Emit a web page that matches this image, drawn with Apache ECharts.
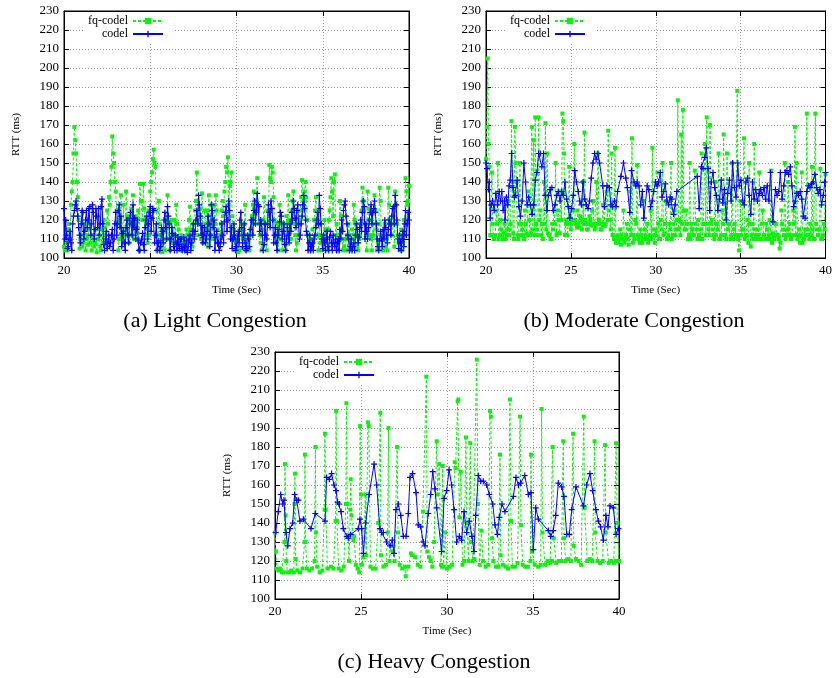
<!DOCTYPE html>
<html><head><meta charset="utf-8">
<script src="https://cdn.jsdelivr.net/npm/echarts@6/dist/echarts.min.js"></script>
<style>html,body{margin:0;padding:0;background:#fff}#c{width:835px;height:678px}</style>
</head><body><div id="c"></div>
<script>
// ---- data ----
const seriesNames = ['fq-codel', 'codel'];
const xTicks = [20, 25, 30, 35, 40];
const yRange = [100, 230];
const captions = ['(a) Light Congestion', '(b) Moderate Congestion', '(c) Heavy Congestion'];

// (a) Light congestion – samples every 0.1 s from 20 s, plus a second set offset by 0.05 s
const startA = 20, stepA = 0.1, startA2 = 20.05;
const fqA = [106,112,104,118,128,140,169,155,132,105,112,108,115,110,107,118,104,112,108,103,
110,106,115,120,112,125,132,140,164,150,135,118,110,133,115,108,135,120,112,126,
133,118,110,125,139,130,139,112,118,125,135,145,157,148,104,130,112,103,115,110,
133,118,108,112,120,128,108,104,112,105,110,115,108,127,112,118,125,145,120,126,
134,115,118,125,133,112,120,128,133,115,108,118,130,135,148,153,138,145,110,104,
108,103,112,118,110,128,112,106,115,122,135,125,142,118,108,115,132,110,125,149,
140,145,120,112,104,128,110,118,108,122,133,115,125,135,112,108,118,125,141,130,
140,120,110,106,115,120,132,112,118,108,112,120,110,115,125,142,122,144,118,108,
130,115,110,104,112,118,108,115,128,112,106,110,118,137,125,112,135,120,110,118,
133,115,108,137,112,104,118,110,137,120,112,125,135,118,108,112,104,120,142,128,138];
const fqA2 = [104,108,115,110,135,155,162,140,120,110,
106,118,104,112,115,108,112,106,115,110,
112,104,108,116,108,118,128,148,155,140,
125,104,120,112,128,112,122,108,118,112,
110,122,116,104,130,120,126,118,108,112,
140,152,150,125,112,118,106,110,104,120,
110,104,120,108,112,118,115,110,104,108,
104,112,120,115,106,112,130,112,118,110,
108,125,112,106,118,128,110,118,125,108,
112,125,122,140,145,128,140,122,115,110,
106,104,115,105,118,104,112,104,112,128,
118,130,125,112,104,120,118,104,118,142,
148,132,108,118,110,118,104,112,104,118,
120,110,130,118,104,112,120,132,125,135,
132,112,104,110,108,125,118,104,112,104,
108,115,104,120,132,135,140,112,104,112,
122,104,106,110,104,112,104,110,120,118,
104,112,125,130,118,104,126,112,104,112,
125,104,118,130,104,110,106,104,128,118,
118,106,128,112,104,115,108,112,135,130];
const codelA = [126,120,105,110,108,118,125,130,122,112,118,124,114,125,120,127,118,124,115,122,
126,118,131,107,110,105,112,108,115,110,124,118,128,122,113,108,116,112,121,118,
128,121,115,109,104,110,107,116,122,118,127,121,125,112,104,109,106,114,120,116,
127,118,110,113,104,108,111,105,110,106,104,109,106,112,108,118,114,125,133,122,
117,112,108,114,118,112,125,120,111,108,104,110,112,119,127,120,125,116,110,112,
106,114,120,116,112,108,105,110,115,120,125,118,134,127,120,112,107,112,118,124,
130,120,112,108,115,119,122,114,107,110,112,118,124,130,121,125,118,112,122,133,
120,112,108,104,108,110,116,124,133,118,105,108,110,106,111,108,112,106,104,110,
115,120,125,130,118,110,106,104,108,112,115,111,120,124,127,118,110,120,128,124,
130,118,106,109,110,115,120,112,115,118,122,127,133,120,105,108,110,106,125,118,120];
const codelA2 = [110,112,106,114,104,122,128,126,116,108,
125,110,120,116,126,112,128,110,126,116,
112,127,118,104,114,108,106,112,104,118,
112,125,116,106,114,104,120,108,124,112,
116,110,120,104,108,113,104,120,110,124,
114,126,108,118,108,104,116,108,124,110,
122,104,116,106,112,104,107,110,104,111,
106,103,110,104,114,110,120,118,128,112,
108,116,110,122,106,128,116,104,114,108,
106,118,108,124,114,130,110,105,118,104,
110,108,124,106,118,104,112,106,120,112,
130,124,128,114,118,104,118,110,128,116,
126,108,116,104,112,124,110,118,104,116,
108,114,120,126,116,128,110,118,128,126,
114,104,112,106,104,112,120,118,126,110,
112,104,114,104,114,104,108,110,108,104,
110,114,128,122,112,104,110,106,104,118,
108,116,114,130,110,114,116,124,118,126,
124,110,104,114,106,110,116,108,120,112,
126,118,128,110,112,104,114,118,112,124];

// (b) Moderate congestion
const startB = 20, stepB = 0.1, startB2 = 20.05;
const fqB = [152,205,148,112,118,110,125,150,112,115,110,118,112,130,115,172,113,169,140,110,
150,118,112,125,113,135,112,169,162,174,115,174,125,118,140,171,155,112,110,118,
125,150,113,120,135,176,155,118,112,148,115,120,160,118,125,116,120,140,166,118,
115,122,117,130,115,140,155,118,115,128,117,135,167,120,155,112,158,110,108,115,
112,125,110,118,107,135,163,112,120,149,110,115,108,130,112,118,110,125,158,112,
115,145,110,120,150,113,130,110,118,150,112,125,115,183,120,165,178,115,125,110,
150,118,112,146,115,120,110,155,118,160,174,115,170,120,112,140,118,155,110,125,
165,112,155,118,110,150,115,112,188,104,130,115,163,112,120,150,106,118,160,112,
115,145,110,125,112,118,110,120,146,113,110,118,112,105,125,115,150,112,140,118,
110,125,169,150,112,108,145,110,115,176,112,118,148,110,176,115,112,147,110,118,144];
const fqB2 = [169,160,112,145,110,112,118,110,120,112,
113,110,115,112,118,140,110,150,112,118,
112,115,110,118,112,120,113,115,112,118,
112,120,112,110,118,115,113,112,110,115,
118,112,125,113,120,172,112,120,118,122,
118,125,120,116,118,122,115,118,120,115,
118,120,125,118,116,118,120,115,118,117,
118,120,125,115,112,110,108,112,110,107,
110,108,112,110,115,112,108,110,118,112,
108,112,110,115,110,108,112,110,115,108,
112,118,110,115,112,118,110,112,115,110,
118,112,120,115,112,118,125,115,118,112,
110,115,112,118,110,112,115,110,118,112,
118,112,118,115,110,112,115,110,112,118,
112,110,115,118,112,110,118,112,110,112,
112,115,110,112,108,118,112,110,115,110,
112,110,118,112,110,115,112,110,108,112,
118,112,110,108,118,112,110,115,112,110,
112,118,112,110,115,112,108,110,112,115,
110,112,115,110,118,112,115,110,112,115];
const codelBt = [20.00,20.06,20.14,20.19,20.25,20.31,20.39,20.48,20.58,20.68,20.78,20.85,20.93,21.01,21.09,21.12,21.2,21.28,21.36,21.43,
21.51,21.59,21.67,21.74,21.84,21.94,22.03,22.13,22.23,22.33,22.42,22.52,22.62,22.71,22.81,22.91,23.0,23.1,23.2,23.29,
23.39,23.49,23.59,23.68,23.78,23.88,23.97,24.07,24.17,24.26,24.36,24.46,24.55,24.65,24.75,24.84,24.94,25.04,25.14,25.23,
25.33,25.43,25.52,25.62,25.72,25.81,25.91,26.01,26.1,26.2,26.3,26.4,26.49,26.59,26.69,26.88,26.98,27.13,27.27,27.36,
27.46,27.56,27.66,27.75,27.95,28.1,28.24,28.33,28.47,28.57,28.72,28.82,28.91,29.01,29.11,29.21,29.3,29.5,29.59,29.69,
29.79,29.88,29.98,30.08,30.17,30.27,30.37,30.47,30.56,30.66,30.76,30.85,30.95,31.05,31.14,31.24,32.44,32.56,32.69,32.79,
32.89,32.98,33.08,33.18,33.27,33.37,33.47,33.57,33.66,33.76,33.86,33.95,34.05,34.15,34.24,34.34,34.44,34.53,34.63,34.73,
34.83,34.92,35.02,35.12,35.21,35.31,35.41,35.5,35.6,35.7,35.79,35.89,35.99,36.09,36.18,36.28,36.38,36.47,36.57,36.67,
36.76,36.9,37.05,37.15,37.25,37.34,37.44,37.54,37.64,37.73,37.83,37.93,38.02,38.12,38.22,38.31,38.41,38.51,38.6,38.7,
38.8,38.9,38.99,39.09,39.19,39.28,39.38,39.48,39.57,39.67,39.77,39.87,39.96,40.0];
const codelBv = [150,147,136,140,121,128,130,125,134,128,135,130,135,125,130,120,132,128,138,141,
155,137,132,133,141,127,122,130,150,140,128,132,128,123,128,141,145,155,155,148,
155,133,125,133,136,137,125,128,133,135,130,135,133,140,131,127,121,126,133,146,
140,135,130,128,140,131,128,126,130,142,150,155,152,155,150,138,127,138,137,128,
127,130,127,135,143,150,142,137,124,146,140,138,140,138,128,135,121,138,136,127,
130,135,140,138,140,145,132,135,139,130,128,132,131,123,128,135,143,126,148,147,
153,158,147,125,140,145,137,133,125,131,141,129,136,120,134,141,130,150,137,132,
150,138,141,130,128,140,142,133,123,140,131,136,130,134,136,133,137,131,138,130,
145,119,136,133,135,145,131,138,145,146,144,148,138,127,130,134,133,135,131,122,
121,135,138,137,139,140,144,137,134,136,128,133,140,145];

// (c) Heavy congestion
const fqCt = [20.0,20.05,20.1,20.2,20.3,20.4,20.5,20.55,20.58,20.62,20.66,20.72,20.85,20.95,21.1,21.14,21.16,21.2,21.3,21.45,
21.6,21.72,21.74,21.78,21.85,22.0,22.15,22.3,22.35,22.38,22.45,22.6,22.75,22.88,22.9,22.95,23.05,23.25,23.4,23.52,
23.55,23.6,23.7,23.85,24.0,24.12,24.15,24.2,24.3,24.38,24.4,24.45,24.55,24.6,24.7,24.8,24.9,24.95,25.0,25.05,
25.15,25.25,25.3,25.4,25.45,25.55,25.7,25.85,26.0,26.12,26.16,26.3,26.45,26.55,26.6,26.65,26.75,26.85,26.95,27.1,
27.15,27.25,27.4,27.55,27.6,27.75,27.9,28.0,28.15,28.3,28.45,28.6,28.8,28.85,28.95,29.05,29.15,29.25,29.4,29.45,
29.55,29.65,29.7,29.75,29.8,29.9,30.0,30.15,30.3,30.45,30.5,30.62,30.66,30.72,30.8,30.9,31.0,31.1,31.15,31.25,
31.35,31.4,31.5,31.6,31.73,31.8,31.9,32.0,32.1,32.25,32.4,32.5,32.55,32.62,32.7,32.85,33.0,33.08,33.12,33.25,
33.4,33.55,33.66,33.72,33.8,33.95,34.1,34.25,34.3,34.4,34.55,34.7,34.85,34.88,34.95,35.1,35.3,35.45,35.5,35.55,
35.7,35.85,36.0,36.1,36.14,36.2,36.35,36.5,36.65,36.76,36.8,36.9,37.05,37.2,37.33,37.37,37.5,37.65,37.8,37.95,
38.0,38.15,38.3,38.45,38.58,38.62,38.75,38.9,39.05,39.19,39.23,39.4,39.55,39.7,39.8,39.83,39.9,40.0];
const fqCv = [135,125,116,115,116,114,114,130,171,144,120,114,114,115,114,150,166,121,115,114,
116,130,176,130,116,115,116,120,180,135,117,114,115,147,187,147,116,117,116,141,
199,141,116,115,117,150,203,150,120,147,163,144,131,133,118,116,114,191,155,118,
122,155,123,193,191,117,116,116,140,198,123,117,118,135,190,120,128,125,120,180,
135,118,116,117,112,117,124,123,122,118,117,146,217,125,122,120,117,130,183,155,
171,118,117,170,117,135,116,117,118,172,169,204,205,143,167,118,120,185,140,120,
182,130,120,121,226,150,118,136,120,117,118,199,196,132,120,117,117,176,123,118,
117,116,205,141,117,117,119,196,139,118,117,117,120,176,125,118,117,118,200,135,
118,120,119,120,180,132,119,120,120,183,132,120,121,120,187,128,121,120,118,196,
148,120,121,120,183,135,120,119,120,181,135,119,120,119,120,182,140,120];
const codelCt = [20.04,20.19,20.33,20.45,20.52,20.64,20.74,20.87,21.03,21.14,21.26,21.36,21.45,21.65,22.09,22.34,22.91,23.0,23.16,23.29,
23.43,23.55,23.64,23.74,23.84,23.97,24.17,24.26,24.4,24.84,24.94,25.04,25.14,25.27,25.47,25.76,25.91,26.1,26.2,26.3,
26.49,26.69,26.82,26.92,27.03,27.17,27.31,27.46,27.62,27.75,27.85,28.0,28.2,28.33,28.47,28.62,28.72,28.91,29.05,29.17,
29.3,29.4,29.69,29.83,29.98,30.12,30.27,30.41,30.56,30.72,30.85,30.99,31.14,31.3,31.45,31.57,31.67,31.82,31.96,32.11,
32.31,32.46,32.66,32.79,32.93,33.04,33.2,33.37,33.86,34.01,34.15,34.28,34.52,34.73,34.88,35.02,35.16,35.31,35.89,36.03,
36.18,36.32,36.47,36.67,36.8,36.96,37.11,37.25,37.5,37.93,38.12,38.31,38.47,38.66,38.8,38.93,39.09,39.24,39.36,39.48,
39.67,39.83,39.96];
const codelCv = [135,146,155,150,152,135,128,137,140,155,152,152,141,142,137,145,141,164,163,166,
160,157,151,150,146,137,133,132,134,137,142,137,124,140,155,171,160,137,135,135,
130,128,131,124,147,150,144,133,133,145,164,166,156,139,138,130,128,145,155,167,
158,148,125,153,157,168,160,147,130,133,131,146,135,141,133,125,144,165,162,162,
160,155,150,139,134,143,150,146,154,164,160,161,165,155,156,126,148,142,136,133,
136,144,161,159,154,134,134,147,159,149,160,166,157,147,141,138,131,144,138,149,
148,134,137];

// ---- build ----
const pairs = (start, step, vals) => vals.map((v, i) => [+(start + i * step).toFixed(2), v]);
const zip = (ts, vs) => ts.map((t, i) => [t, vs[i]]);
const merge = (p, q) => p.concat(q).sort((u, w) => u[0] - w[0]);

const GREEN = '#11ee11', BLUE = '#0000ff';
const PLUS = 'path://M4,0H6V4H10V6H6V10H4V6H0V4H4Z';
const serif = 'Liberation Serif';

const grids = [
  {left: 64, top: 11, width: 345, height: 247},
  {left: 486, top: 11, width: 346, height: 247},
  {left: 275, top: 352, width: 344, height: 247}
];

const xAxes = [], yAxes = [];
grids.forEach((g, gi) => {
  xAxes.push({
    type: 'value', gridIndex: gi, min: 20, max: 40, interval: 5, position: 'bottom',
    name: 'Time (Sec)', nameLocation: 'middle', nameGap: 27,
    nameTextStyle: {fontFamily: serif, fontSize: 11, color: '#000'},
    axisLine: {show: true, lineStyle: {color: '#000', width: 1}},
    axisTick: {show: true, inside: true, length: 5, lineStyle: {color: '#000'}},
    axisLabel: {fontFamily: serif, fontSize: 13, color: '#000', margin: 6},
    splitLine: {show: true, lineStyle: {color: '#999', type: [1, 2], width: 1}}
  });
  xAxes.push({
    type: 'value', gridIndex: gi, min: 20, max: 40, interval: 5, position: 'top',
    axisLine: {show: true, lineStyle: {color: '#000', width: 1}},
    axisTick: {show: true, inside: true, length: 5, lineStyle: {color: '#000'}},
    axisLabel: {show: false}, splitLine: {show: false}
  });
  yAxes.push({
    type: 'value', gridIndex: gi, min: yRange[0], max: yRange[1], interval: 10, position: 'left',
    name: 'RTT (ms)', nameLocation: 'middle', nameGap: 42, nameRotate: 90,
    nameTextStyle: {fontFamily: serif, fontSize: 11, color: '#000'},
    axisLine: {show: true, lineStyle: {color: '#000', width: 1}},
    axisTick: {show: true, inside: true, length: 5, lineStyle: {color: '#000'}},
    axisLabel: {fontFamily: serif, fontSize: 13, color: '#000', margin: 5},
    splitLine: {show: true, lineStyle: {color: '#999', type: [1, 2], width: 1}}
  });
  yAxes.push({
    type: 'value', gridIndex: gi, min: yRange[0], max: yRange[1], interval: 10, position: 'right',
    axisLine: {show: true, lineStyle: {color: '#000', width: 1}},
    axisTick: {show: true, inside: true, length: 5, lineStyle: {color: '#000'}},
    axisLabel: {show: false}, splitLine: {show: false}
  });
});

function fqSeries(idx, data) {
  return {
    name: seriesNames[0], type: 'line', xAxisIndex: idx * 2, yAxisIndex: idx * 2, data,
    symbol: 'rect', symbolSize: 4, showSymbol: true, showAllSymbol: true,
    lineStyle: {color: GREEN, width: 1, type: [3, 2]},
    itemStyle: {color: GREEN}, z: 2
  };
}
function codelSeries(idx, data) {
  return {
    name: seriesNames[1], type: 'line', xAxisIndex: idx * 2, yAxisIndex: idx * 2, data,
    symbol: PLUS, symbolSize: 6, showSymbol: true, showAllSymbol: true,
    lineStyle: {color: BLUE, width: 1},
    itemStyle: {color: BLUE}, z: 3
  };
}

const series = [
  fqSeries(0, merge(pairs(startA, stepA, fqA), pairs(startA2, stepA, fqA2))),
  codelSeries(0, merge(pairs(startA, stepA, codelA), pairs(startA2, stepA, codelA2))),
  fqSeries(1, merge(pairs(startB, stepB, fqB), pairs(startB2, stepB, fqB2))),
  codelSeries(1, zip(codelBt, codelBv)),
  fqSeries(2, zip(fqCt, fqCv)),
  codelSeries(2, zip(codelCt, codelCv))
];

const legends = grids.map(g => ({
  data: seriesNames, orient: 'vertical', align: 'right',
  left: g.left + 20, top: g.top + 1,
  padding: [3, 10, 3, 4], backgroundColor: '#fff',
  itemWidth: 30, itemHeight: 8, itemGap: 1,
  textStyle: {fontFamily: serif, fontSize: 12, color: '#000'},
  selectedMode: false
}));

const capPos = [[215, 321], [634, 321], [434, 662]];

const chart = echarts.init(document.getElementById('c'));
chart.setOption({
  animation: false,
  grid: grids.map(g => Object.assign({show: true, borderColor: '#000', borderWidth: 1, backgroundColor: 'transparent'}, g)),
  xAxis: xAxes, yAxis: yAxes, legend: legends, series,
  graphic: captions.map((c, i) => ({
    type: 'text', x: capPos[i][0], y: capPos[i][1],
    style: {text: c, font: '22px "Liberation Serif"', fill: '#000', align: 'center', verticalAlign: 'middle'}
  }))
});
</script></body></html>
